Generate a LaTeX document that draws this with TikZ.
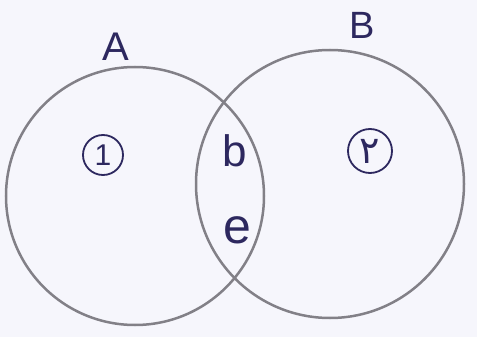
\documentclass[tikz,border=0pt]{standalone}
\usepackage{fontspec}
\setmainfont{Liberation Sans}
\newfontfamily\arabicfont[Script=Arabic]{DejaVu Sans}
\TeXXeTstate=1
\definecolor{ink}{RGB}{45,40,95}
\definecolor{ring}{RGB}{130,128,135}
\definecolor{paper}{RGB}{246,246,252}
\tikzset{
  setcircle/.style={draw=ring, line width=2.5pt},
  lbl/.style={text=ink, inner sep=0pt},
  tag/.style={draw=ink, circle, line width=1.8pt, text=ink, inner sep=0pt},
}
\begin{document}
\begin{tikzpicture}[x=1pt,y=-1pt]
\fill[paper] (0,0) rectangle (477,337);
\useasboundingbox (0,0) rectangle (477,337);
\node[setcircle, circle, minimum size=258pt] (circA) at (135,196) {};
\node[setcircle, circle, minimum size=268pt] (circB) at (330,184) {};
\node[lbl, font=\fontsize{40}{40}\selectfont] (labA) at (116,47) {A};
\node[lbl, font=\fontsize{38}{38}\selectfont] (labB) at (362,25) {B};
\node[tag, minimum size=40pt, font=\fontsize{30}{30}\selectfont] (one) at (103,155) {1};
\node[tag, minimum size=44pt, font=\fontsize{38}{38}\selectfont\arabicfont] (two) at (370,151) {\beginR ۲\endR};
\node[lbl, font=\fontsize{44}{44}\selectfont] (lb) at (235,151) {b};
\node[lbl, font=\fontsize{50}{50}\selectfont] (le) at (237,230) {e};
\end{tikzpicture}
\end{document}
